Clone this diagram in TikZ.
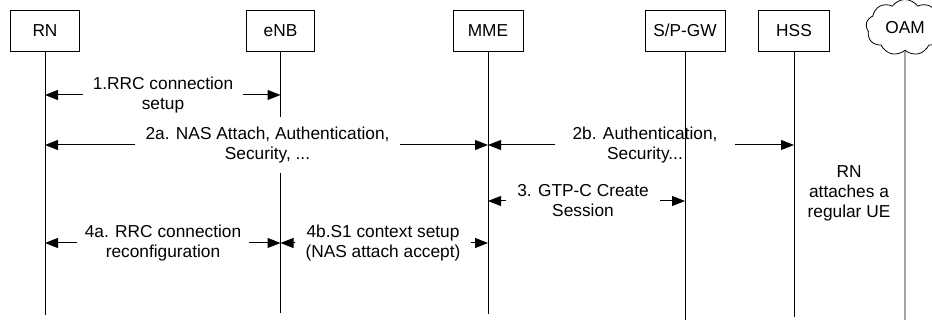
\documentclass[tikz,border=0pt]{standalone}
\usepackage{fontspec}
\setmainfont{Liberation Sans}
\usetikzlibrary{shapes,arrows.meta}

\begin{document}
\begin{tikzpicture}[x=1pt,y=-1pt,
  every node/.style={font=\fontsize{17.3}{20}\selectfont},
  entity/.style={draw,line width=0.8pt,minimum width=#1,minimum height=41pt,inner sep=0pt},
  life/.style={line width=0.8pt},
  msg/.style={line width=1pt,-{Triangle[length=13pt,width=10pt]}},
  lbl/.style={align=center,inner xsep=#1,inner ysep=0pt},
  lbl/.default=10pt]
\useasboundingbox (0,0) rectangle (932,320);
\node[entity=69pt] (rn) at (45,30.5) {RN};
\node[entity=68pt] (enb) at (280.5,30.5) {eNB};
\node[entity=70pt] (mme) at (488,30.5) {MME};
\node[entity=80pt] (gw) at (685,30.5) {S/P-GW};
\node[entity=71pt] (hss) at (794,30.5) {HSS};
\node[draw,cloud,cloud puffs=9,cloud puff arc=110,aspect=1.5,inner sep=0pt,line width=0.8pt,minimum width=78pt,minimum height=56pt] (oam) at (905,27.5) {OAM};
\foreach \n/\e in {rn/315,enb/313,mme/314,gw/320,hss/317,oam/320}
  \draw[life] (\n) -- (\n |- 0,\e);
\node[lbl] (m1) at (163,95) {1.RRC connection\\setup};
\draw[msg] (m1) -- (m1 -| rn);
\draw[msg] (m1) -- (m1 -| enb);
\node[lbl,fill=white,inner ysep=10pt] (m2a) at (267.5,145) {2a. NAS Attach, Authentication,\\Security, ...};
\draw[msg] (m2a) -- (m2a -| rn);
\draw[msg] (m2a) -- (m2a -| mme);
\node[lbl=17pt] (m2b) at (645,145) {2b. Authentication,\\Security...};
\draw[msg] (m2b) -- (m2b -| mme);
\draw[msg] (m2b) -- (m2b -| hss);
\node[lbl=11pt] (m3) at (583,201) {3. GTP-C Create\\Session};
\draw[msg] (m3) -- (m3 -| mme);
\draw[msg] (m3) -- (m3 -| gw);
\node[lbl=8pt] (m4a) at (163,243) {4a. RRC connection\\reconfiguration};
\draw[msg] (m4a) -- (m4a -| rn);
\draw[msg] (m4a) -- (m4a -| enb);
\node[lbl] (m4b) at (383,243) {4b.S1 context setup\\(NAS attach accept)};
\draw[msg] (m4b) -- (m4b -| enb);
\draw[msg] (m4b) -- (m4b -| mme);
\node[align=center] (note) at (849,193) {RN\\attaches a\\regular UE};
\end{tikzpicture}
\end{document}
